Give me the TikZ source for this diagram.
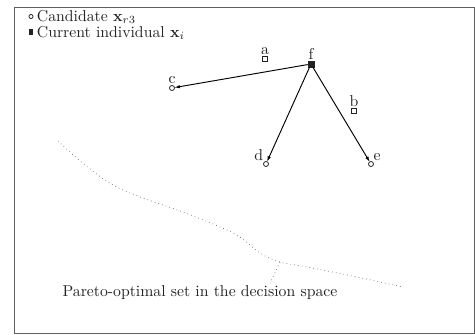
\documentclass[tikz,border=0pt]{standalone}
\usepackage{tikz}
\usetikzlibrary{
  arrows.meta,
  positioning,
  calc,
}
\definecolor{ink}{HTML}{222222}
\definecolor{frameStroke}{HTML}{606060}
\definecolor{curveStroke}{HTML}{707070}
\tikzset{
  every node/.style={
    text=ink,
    inner sep=1.5pt,
  },
  candidate/.style={
    circle, draw=ink, line width=0.5pt, fill=white,
    inner sep=0pt, minimum size=3.2pt,
  },
  current/.style={
    rectangle, draw=ink, fill=ink,
    inner sep=0pt, minimum size=3.8pt,
  },
  other/.style={
    rectangle, draw=ink, line width=0.4pt, fill=white,
    inner sep=0pt, minimum size=3.2pt,
  },
  keymark/.style={
    inner sep=0pt, minimum width=2pt, minimum height=3pt,
  },
  keytext/.style={
    anchor=west, inner xsep=1pt, inner ysep=0pt, text depth=0.6pt,
  },
  move/.style={
    -{Latex[length=3.5pt,width=2.2pt]},
    draw=black, line width=0.6pt, shorten >=-0.3pt,
  },
  front/.style={
    draw=curveStroke, line width=0.45pt, dotted,
  },
}

\begin{document}
\begin{tikzpicture}[x=0.635pt, y=-0.635pt]

% ============================================
% Coordinates follow the 475 x 335 canvas, y pointing down
% ============================================
\useasboundingbox (0,0) rectangle (475,335);
\draw[frameStroke, line width=0.5pt] (14.5,7) rectangle (474.5,333.5);

% ----- Legend -----
\node[candidate, minimum size=2.6pt] (keycand) at (31,16.5) {};
\node[keytext] (keycandtxt) at (35,16.5) {Candidate $\mathbf{x}_{r3}$};
\node[current, keymark] (keycur) at (31,32) {};
\node[keytext] (keycurtxt) at (35,32) {Current individual $\mathbf{x}_i$};

% ----- Population members -----
\node[current]   (f) at (311,64)  [label={[inner sep=0.5pt]above:f}] {};
\node[other]     (a) at (265,59)  [label={[inner sep=0.5pt]above:a}] {};
\node[other]     (b) at (354,111) [label={[inner sep=0.5pt]above:b}] {};
\node[candidate] (c) at (172,88)  [label={[inner sep=0.5pt]above:c}] {};
\node[candidate] (d) at (266,164) [label={[inner sep=0.5pt]130:d}] {};
\node[candidate] (e) at (371,164) [label={[inner sep=0.5pt]60:e}] {};

% ----- Moves from the current individual -----
\draw[move] (f) -- (c);
\draw[move] (f) -- (d);
\draw[move] (f) -- (e);

% ----- Pareto-optimal set -----
\draw[front] plot[smooth, tension=0.6] coordinates {
  (58,141) (85,165) (113,185) (143,198) (183,212) (220,227)
  (240,237) (260,253) (280,262) (307,267) (357,277) (403,287)};
\coordinate (frontpt) at (280,262);

\node (pareto) at (200,293) {Pareto-optimal set in the decision space};
\draw[front] (frontpt) -- ($(pareto.north)!0.5!(pareto.north east)$);

\end{tikzpicture}
\end{document}
